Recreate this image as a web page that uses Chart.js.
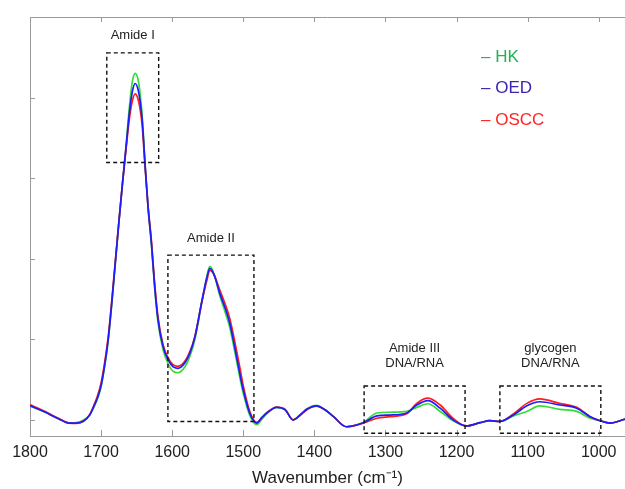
<!DOCTYPE html>
<html>
<head>
<meta charset="utf-8">
<script src="https://cdn.jsdelivr.net/npm/chart.js@4"></script>
<style>
  html, body { margin: 0; padding: 0; background: #fff; }
  #wrap { width: 625px; height: 489px; }
</style>
</head>
<body>
<div id="wrap"><canvas id="ftir"></canvas></div>
<script>
// Spectra (arbitrary absorbance units)
const wavenumbers = [1800, 1780, 1760, 1745, 1735, 1725, 1716, 1710, 1705, 1700,
  1695, 1690, 1685, 1680, 1675, 1670, 1665, 1660, 1656, 1652,
  1648, 1645, 1642, 1638, 1634, 1629, 1625, 1620, 1613, 1606,
  1599, 1592, 1582, 1575, 1568, 1558, 1551, 1547, 1541, 1533,
  1525, 1519, 1512, 1505, 1500, 1491, 1481, 1474, 1467, 1453,
  1441, 1430, 1420, 1410, 1397, 1385, 1373, 1355, 1331, 1312,
  1294, 1270, 1256, 1240, 1223, 1205, 1186, 1167, 1153, 1139,
  1120, 1101, 1083, 1055, 1031, 1012, 998, 984, 963];
const oed  = [0.035, 0.020, 0.003, -0.008, -0.008, -0.003, 0.012, 0.034, 0.055, 0.085,
  0.135, 0.200, 0.290, 0.390, 0.490, 0.585, 0.675, 0.765, 0.815, 0.835,
  0.820, 0.790, 0.740, 0.630, 0.530, 0.435, 0.340, 0.250, 0.183, 0.150,
  0.132, 0.128, 0.142, 0.166, 0.206, 0.297, 0.355, 0.376, 0.360, 0.314,
  0.275, 0.240, 0.180, 0.116, 0.074, 0.017, -0.008, 0.005, 0.017, 0.031,
  0.025, 0.000, 0.012, 0.027, 0.035, 0.025, 0.008, -0.017, -0.007, 0.010,
  0.012, 0.017, 0.037, 0.048, 0.029, 0.000, -0.015, -0.007, -0.002, -0.004,
  0.012, 0.035, 0.045, 0.037, 0.029, 0.008, -0.002, -0.008, 0.002];
const hk   = [0.035, 0.020, 0.003, -0.008, -0.007, -0.001, 0.012, 0.032, 0.053, 0.082,
  0.132, 0.196, 0.286, 0.387, 0.488, 0.585, 0.678, 0.780, 0.840, 0.860,
  0.845, 0.808, 0.750, 0.632, 0.528, 0.430, 0.335, 0.243, 0.175, 0.140,
  0.121, 0.117, 0.132, 0.158, 0.200, 0.295, 0.358, 0.381, 0.362, 0.308,
  0.265, 0.230, 0.170, 0.107, 0.066, 0.012, -0.012, 0.001, 0.015, 0.031,
  0.025, 0.000, 0.013, 0.028, 0.036, 0.025, 0.008, -0.017, -0.006, 0.017,
  0.019, 0.021, 0.031, 0.040, 0.021, -0.002, -0.015, -0.007, -0.002, -0.004,
  0.010, 0.021, 0.035, 0.026, 0.021, 0.004, -0.002, -0.008, 0.002];
const oscc = [0.038, 0.022, 0.004, -0.008, -0.009, -0.004, 0.013, 0.037, 0.060, 0.092,
  0.142, 0.206, 0.295, 0.394, 0.492, 0.585, 0.670, 0.750, 0.792, 0.809,
  0.796, 0.770, 0.727, 0.625, 0.532, 0.440, 0.346, 0.256, 0.188, 0.155,
  0.137, 0.133, 0.146, 0.170, 0.208, 0.295, 0.348, 0.371, 0.360, 0.322,
  0.285, 0.252, 0.195, 0.132, 0.085, 0.022, -0.006, 0.006, 0.018, 0.032,
  0.026, 0.000, 0.011, 0.026, 0.034, 0.025, 0.008, -0.017, -0.008, 0.004,
  0.008, 0.015, 0.041, 0.054, 0.037, 0.004, -0.015, -0.007, -0.002, -0.004,
  0.015, 0.041, 0.052, 0.041, 0.031, 0.008, -0.002, -0.008, 0.002];

const xTicks = [1800, 1700, 1600, 1500, 1400, 1300, 1200, 1100, 1000];
const yTicks = [0, 0.2, 0.4, 0.6, 0.8];

// Highlighted band regions
const regionLabels = [["Amide I"], ["Amide II"], ["Amide III", "DNA/RNA"], ["glycogen", "DNA/RNA"]];
const regionFrom   = [1692, 1606, 1330, 1139];
const regionTo     = [1619, 1485, 1188, 997];
const regionTop    = [0.911, 0.409, 0.084, 0.084];
const regionBottom = [0.639, -0.004, -0.033, -0.033];

const seriesNames = ["HK", "OED", "OSCC"];
const legendColors = ["#1fb352", "#3a24b4", "#ff2424"];

const FONT = '"Liberation Sans", Arial, sans-serif';
const AXIS = "#9a9a9a";

function points(vals) {
  return wavenumbers.map((w, i) => ({ x: w, y: vals[i] }));
}

// inward ticks, top frame line, dashed regions, legend text
const decorations = {
  id: "decorations",
  afterDatasetsDraw(chart) {
    const ctx = chart.ctx;
    const area = chart.chartArea;
    const xs = chart.scales.x;
    const ys = chart.scales.y;

    ctx.save();
    ctx.strokeStyle = AXIS;
    ctx.lineWidth = 1;
    ctx.beginPath();
    ctx.moveTo(area.left, area.top + 0.5);
    ctx.lineTo(area.right, area.top + 0.5);
    xs.ticks.forEach(t => {
      const px = Math.round(xs.getPixelForValue(t.value)) + 0.5;
      ctx.moveTo(px, area.top);
      ctx.lineTo(px, area.top + 5);
      ctx.moveTo(px, area.bottom);
      ctx.lineTo(px, area.bottom - 6);
    });
    ys.ticks.forEach(t => {
      const py = Math.round(ys.getPixelForValue(t.value)) + 0.5;
      ctx.moveTo(area.left, py);
      ctx.lineTo(area.left + 5, py);
    });
    ctx.stroke();

    // dashed boxes and their labels
    ctx.strokeStyle = "#111";
    ctx.lineWidth = 1.4;
    ctx.setLineDash([4, 3]);
    ctx.fillStyle = "#222";
    ctx.font = "13px " + FONT;
    ctx.textAlign = "center";
    ctx.textBaseline = "middle";
    regionLabels.forEach((lines, i) => {
      const x0 = xs.getPixelForValue(regionFrom[i]);
      const x1 = xs.getPixelForValue(regionTo[i]);
      const y0 = ys.getPixelForValue(regionTop[i]);
      const y1 = ys.getPixelForValue(regionBottom[i]);
      ctx.strokeRect(x0, y0, x1 - x0, y1 - y0);
      const cx = (x0 + x1) / 2;
      const gap = lines.length > 1 ? 23 : 17;
      lines.forEach((txt, k) => {
        const ty = y0 - gap - (lines.length - 1 - k) * 15;
        ctx.fillText(txt, cx, ty);
      });
    });
    ctx.setLineDash([]);

    // legend
    ctx.font = "17px " + FONT;
    ctx.textAlign = "left";
    seriesNames.forEach((name, i) => {
      ctx.fillStyle = legendColors[i];
      ctx.fillText("\u2013 " + name, 481, 57 + i * 31.5);
    });
    ctx.restore();
  }
};

new Chart(document.getElementById("ftir"), {
  type: "line",
  data: {
    datasets: [
      { label: "OED", data: points(oed), borderColor: "#1c1cff" },
      { label: "OSCC", data: points(oscc), borderColor: "#ff1c1c" },
      { label: "HK", data: points(hk), borderColor: "#33dd33" }
    ]
  },
  options: {
    responsive: true,
    maintainAspectRatio: false,
    animation: false,
    devicePixelRatio: 1,
    layout: { padding: { top: 17, right: 0, left: 0, bottom: 0 } },
    elements: {
      point: { radius: 0 },
      line: { borderWidth: 1.7, cubicInterpolationMode: "monotone", fill: false }
    },
    plugins: { legend: { display: false }, tooltip: { enabled: false } },
    scales: {
      x: {
        type: "linear",
        reverse: true,
        min: 963,
        max: 1800,
        afterBuildTicks: s => { s.ticks = xTicks.map(v => ({ value: v })); },
        afterFit: s => { s.height = 53; },
        ticks: {
          color: "#222",
          font: { family: FONT, size: 16 },
          padding: 7,
          maxRotation: 0,
          autoSkip: false,
          callback: v => String(v)
        },
        grid: { drawOnChartArea: false, drawTicks: false },
        border: { display: true, color: AXIS, width: 1 },
        title: {
          display: true,
          text: "Wavenumber (cm\u207B\u00B9)",
          color: "#222",
          font: { family: FONT, size: 17 },
          padding: { top: 0, bottom: 0 }
        }
      },
      y: {
        min: -0.04,
        max: 1.0,
        afterBuildTicks: s => { s.ticks = yTicks.map(v => ({ value: v })); },
        afterFit: s => { s.width = 30; },
        ticks: { display: false },
        grid: { drawOnChartArea: false, drawTicks: false },
        border: { display: true, color: AXIS, width: 1 }
      }
    }
  },
  plugins: [decorations]
});
</script>
</body>
</html>
